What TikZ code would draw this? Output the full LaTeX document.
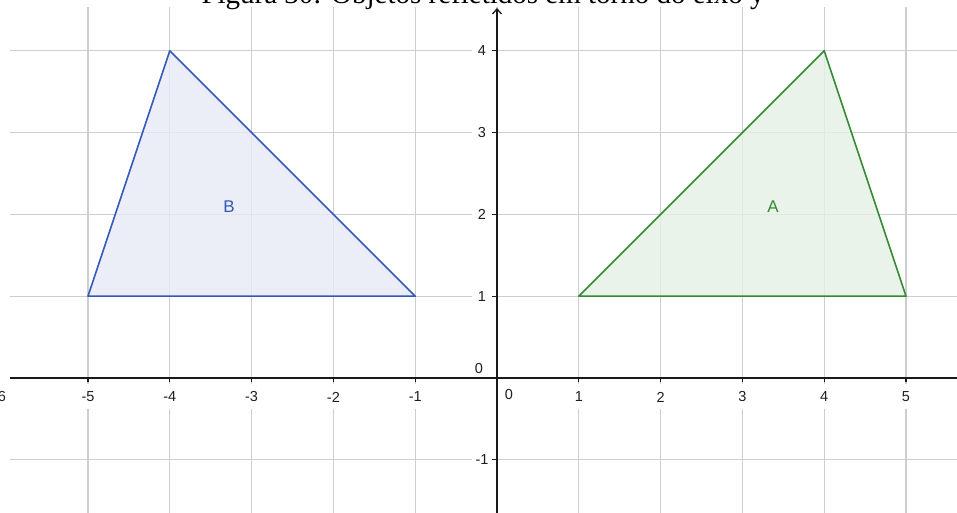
\documentclass[tikz,border=0pt]{standalone}
\usepackage{fontspec}
\setmainfont{Liberation Serif}
\setsansfont{Liberation Sans}
\usetikzlibrary{arrows.meta}
\definecolor{gridgray}{RGB}{206,206,206}
\definecolor{axisblack}{RGB}{25,25,25}
\definecolor{labgray}{RGB}{30,30,30}
\definecolor{bstroke}{RGB}{52,88,185}
\definecolor{bfill}{RGB}{230,234,246}
\definecolor{astroke}{RGB}{50,138,50}
\definecolor{afill}{RGB}{229,240,229}
\tikzset{
  gridline/.style={draw=gridgray, line width=1.2pt},
  axisline/.style={draw=axisblack, line width=1.6pt},
  ticklab/.style={fill=white, inner sep=0pt, minimum height=25pt, minimum width=20pt,
    text=labgray, font=\sffamily\fontsize{14.5}{15}\selectfont},
  zerolab/.style={inner sep=0pt, text=labgray, font=\sffamily\fontsize{14.5}{15}\selectfont},
  ticks/.style={draw=axisblack, line width=1.2pt},
  polylab/.style={inner sep=0pt, font=\sffamily\fontsize{17}{18}\selectfont},
}
\begin{document}
\begin{tikzpicture}[x=81.8pt, y=81.8pt]
\useasboundingbox (-6.0758,-1.6504) rectangle (5.6235,4.6210);
\clip (-6.0758,-1.6504) rectangle (5.6235,4.6210);
\fill[white] (-6.0758,-1.6504) rectangle (5.6235,4.6210);
% caption (cut off at top)
\node[anchor=base, inner sep=0pt, font=\fontsize{29}{30}\selectfont] (cap) at (-0.171,4.575)
  {Figura 30: Objetos refletidos em torno do eixo y};
% grid
\foreach \x in {-5,...,5} {
  \draw[gridline] (\x,-1.6504) -- (\x,4.5355);
}
\foreach \y in {-1,1,2,3,4} {
  \draw[gridline] (-5.9535,\y) -- (5.6235,\y);
}
% triangles
\coordinate (B1) at (-5,1); \coordinate (B2) at (-4,4); \coordinate (B3) at (-1,1);
\coordinate (A1) at (1,1); \coordinate (A2) at (4,4); \coordinate (A3) at (5,1);
\fill[bfill, opacity=0.8] (B1) -- (B2) -- (B3) -- cycle;
\fill[afill, opacity=0.8] (A1) -- (A2) -- (A3) -- cycle;
\draw[bstroke, line width=1.6pt, line join=round] (B1) -- (B2) -- (B3) -- cycle;
\draw[astroke, line width=1.6pt, line join=round] (A1) -- (A2) -- (A3) -- cycle;
\node[polylab, text=bstroke] (labB) at (-3.276,2.09) {B};
\node[polylab, text=astroke] (labA) at (3.374,2.09) {A};
% tick labels
\foreach \x in {-5,...,-1,1,2,3,4,5} {
  \node[ticklab] (xl\x) at (\x,-0.232) {\x};
}
\node[ticklab, anchor=east, minimum width=0pt] (xlm6) at (-6.0,-0.232) {-6};
\foreach \y in {-1,1,2,3,4} {
  \node[ticklab] (yl\y) at (-0.183,\y) {\y};
}
\node[zerolab] (y0) at (-0.22,0.11) {0};
\node[zerolab] (x0) at (0.147,-0.208) {0};
% axes
\coordinate (xaL) at (-5.9535,0);
\coordinate (xaR) at (5.6235,0);
\coordinate (yaB) at (0,-1.6504);
\coordinate (yaT) at (0,4.523);
\draw[axisline] (xaL) -- (xaR);
\draw[axisline, -{Straight Barb[length=5pt,width=9pt,line width=1.3pt]}] (yaB) -- (yaT);
\foreach \x in {-5,...,-1,1,2,3,4,5} {
  \draw[ticks] (\x,0) -- (\x,-0.055);
}
\foreach \y in {-1,1,2,3,4} {
  \draw[ticks] (0,\y) -- (-0.055,\y);
}
\end{tikzpicture}
\end{document}
